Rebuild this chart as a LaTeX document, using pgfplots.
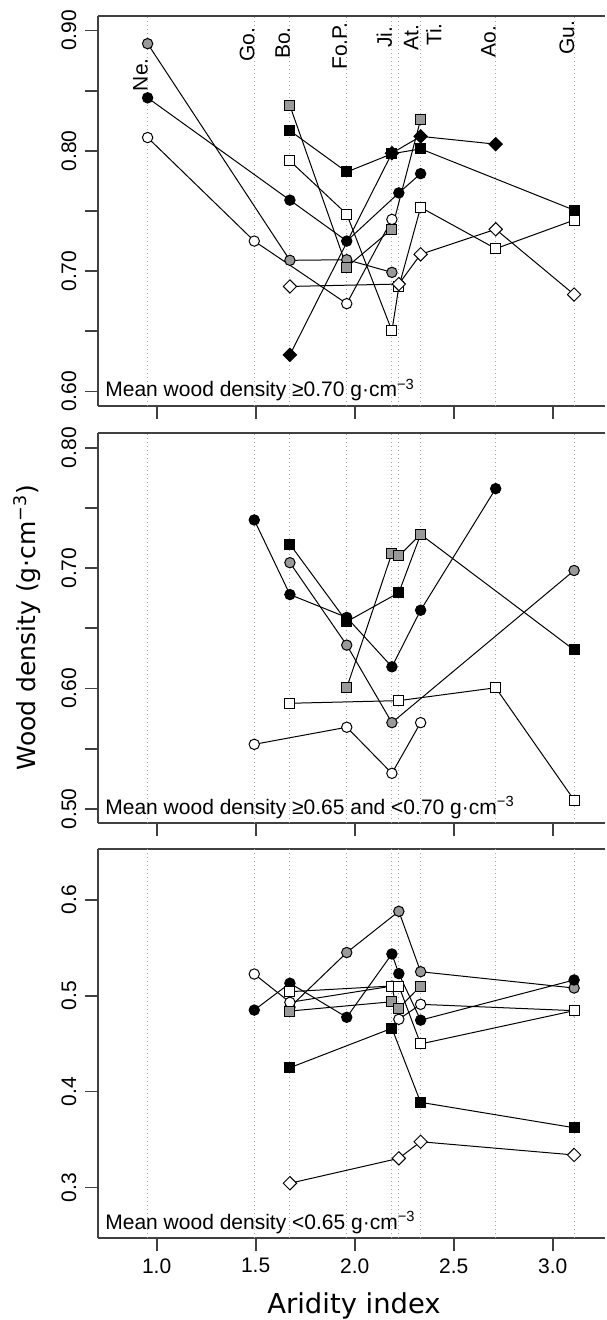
\documentclass[border=0pt]{standalone}
\usepackage{fontspec}
\setmainfont{Liberation Sans}
\newfontfamily\dejavu{DejaVu Sans}
\usepackage{pgfplots}
\pgfplotsset{compat=1.18}

\tikzset{
  plabel/.style={anchor=base west, font=\fontsize{10.5}{12}\selectfont, inner sep=0pt, xshift=3.5pt, yshift=4.5pt},
  slabel/.style={rotate=90, anchor=base, font=\fontsize{10.5}{12}\selectfont, inner sep=0pt, xshift=-0.6pt},
}
\pgfplotsset{
  GC/.style={black, line width=0.5pt, mark=*, mark size=2.6pt, mark options={draw=black, fill=black!40, line width=0.5pt, solid}},
  BC/.style={black, line width=0.5pt, mark=*, mark size=2.6pt, mark options={draw=black, fill=black, line width=0.5pt, solid}},
  WC/.style={black, line width=0.5pt, mark=*, mark size=2.6pt, mark options={draw=black, fill=white, line width=0.5pt, solid}},
  GS/.style={black, line width=0.5pt, mark=square*, mark size=2.5pt, mark options={draw=black, fill=black!40, line width=0.5pt, solid}},
  BS/.style={black, line width=0.5pt, mark=square*, mark size=2.5pt, mark options={draw=black, fill=black, line width=0.5pt, solid}},
  WS/.style={black, line width=0.5pt, mark=square*, mark size=2.5pt, mark options={draw=black, fill=white, line width=0.5pt, solid}},
  BD/.style={black, line width=0.5pt, mark=square*, mark size=2.35pt, mark options={draw=black, fill=black, line width=0.5pt, solid, rotate=45}},
  WD/.style={black, line width=0.5pt, mark=square*, mark size=2.35pt, mark options={draw=black, fill=white, line width=0.5pt, solid, rotate=45}},
  panel/.style={
    scale only axis, width=253.5pt, height=195pt,
    xmin=0.704, xmax=3.264,
    axis x line*=box, axis y line*=left,
    xtick={1,1.5,2,2.5,3},
    xtick pos=left, ytick pos=left,
    tick align=outside,
    major tick length=6.5pt,
    axis line style={black!75, line width=0.9pt},
    every tick/.style={black!75, line width=0.9pt},
    tick label style={font=\fontsize{10.5}{12}\selectfont},
    yticklabel style={rotate=90, anchor=base},
    yticklabel shift=4.5pt,
    extra x ticks={0.9545,1.493,1.673,1.960,2.188,2.223,2.333,2.712,3.108},
    extra x tick style={grid=major, major tick length=0pt, xticklabel={}},
    major grid style={black!35, line width=0.5pt, dash pattern=on 0.5pt off 1.5pt},
    clip=false,
  },
}

\begin{document}
\begin{tikzpicture}
\useasboundingbox (0,0) rectangle (303pt,660pt);

% ---------------- Panel 1 ----------------
\begin{axis}[panel, at={(49pt,457pt)}, anchor=south west,
  ymin=0.588, ymax=0.912,
  ytick={0.60,0.65,0.70,0.75,0.80,0.85,0.90},
  yticklabels={0.60,,0.70,,0.80,,0.90},
  xticklabels={,,,,}]
\addplot[GC] coordinates {(0.9545,0.889) (1.673,0.709) (1.960,0.7095) (2.188,0.699)};
\addplot[BC] coordinates {(0.9545,0.844) (1.673,0.759) (1.960,0.725) (2.223,0.765) (2.333,0.781)};
\addplot[WC] coordinates {(0.9545,0.811) (1.493,0.725) (1.960,0.673) (2.188,0.743)};
\addplot[BS] coordinates {(1.673,0.8167) (1.960,0.7824) (2.188,0.7975) (2.333,0.8016) (3.108,0.7507)};
\addplot[GS] coordinates {(1.673,0.8375) (1.960,0.7034) (2.188,0.735) (2.333,0.826)};
\addplot[WS] coordinates {(1.673,0.7916) (1.960,0.7474) (2.188,0.6505) (2.223,0.687) (2.333,0.753) (2.712,0.7187) (3.108,0.7424)};
\addplot[BD] coordinates {(1.673,0.6305) (2.188,0.798) (2.333,0.812) (2.712,0.8055)};
\addplot[WD] coordinates {(1.673,0.6873) (2.223,0.6893) (2.333,0.714) (2.712,0.7348) (3.108,0.6806)};
\node[slabel] at (axis cs:0.9545,0.8642) {Ne.};
\node[slabel] at (axis cs:1.493,0.8893) {Go.};
\node[slabel] at (axis cs:1.673,0.8905) {Bo.};
\node[slabel] at (axis cs:1.960,0.888) {Fo.P.};
\node[slabel] at (axis cs:2.188,0.8954) {Ji.};
\node[slabel] at (axis cs:2.322,0.8947) {At.};
\node[slabel] at (axis cs:2.438,0.8976) {Ti.};
\node[slabel] at (axis cs:2.712,0.8918) {Ao.};
\node[slabel] at (axis cs:3.108,0.8947) {Gu.};
\node[plabel] at (rel axis cs:0,0) {Mean wood density ≥0.70 g·cm\textsuperscript{−3}};
\end{axis}

% ---------------- Panel 2 ----------------
\begin{axis}[panel, at={(49pt,248.35pt)}, anchor=south west,
  ymin=0.488, ymax=0.812,
  ytick={0.50,0.55,0.60,0.65,0.70,0.75,0.80},
  yticklabels={0.50,,0.60,,0.70,,0.80},
  xticklabels={,,,,}]
\addplot[GC] coordinates {(1.673,0.7045) (1.960,0.636) (2.188,0.5716) (3.108,0.698)};
\addplot[BC] coordinates {(1.493,0.740) (1.673,0.678) (1.960,0.659) (2.188,0.618) (2.333,0.665) (2.712,0.766)};
\addplot[WC] coordinates {(1.493,0.5536) (1.960,0.5678) (2.188,0.5295) (2.333,0.5716)};
\addplot[BS] coordinates {(1.673,0.7198) (1.960,0.6555) (2.223,0.6796) (2.333,0.728) (3.108,0.632)};
\addplot[GS] coordinates {(1.960,0.6006) (2.188,0.7123) (2.223,0.7101) (2.333,0.7281)};
\addplot[WS] coordinates {(1.673,0.5877) (2.223,0.5899) (2.712,0.6006) (3.108,0.5073)};
\node[plabel] at (rel axis cs:0,0) {Mean wood density ≥0.65 and <0.70 g·cm\textsuperscript{−3}};
\end{axis}

% ---------------- Panel 3 ----------------
\begin{axis}[panel, at={(49pt,40.85pt)}, anchor=south west, height=194.65pt,
  ymin=0.247, ymax=0.653,
  ytick={0.3,0.4,0.5,0.6},
  yticklabels={0.3,0.4,0.5,0.6},
  xticklabels={1.0,1.5,2.0,2.5,3.0}]
\addplot[GC] coordinates {(1.673,0.488) (1.960,0.545) (2.223,0.588) (2.333,0.525) (3.108,0.508)};
\addplot[BC] coordinates {(1.493,0.485) (1.673,0.513) (1.960,0.4775) (2.188,0.5435) (2.223,0.523) (2.333,0.4745) (3.108,0.5164)};
\addplot[WC] coordinates {(1.493,0.5226) (1.673,0.4931) (2.188,0.510) (2.223,0.4754) (2.333,0.491) (3.108,0.4844)};
\addplot[BS] coordinates {(1.673,0.4249) (2.188,0.466) (2.333,0.3888) (3.108,0.3623)};
\addplot[GS] coordinates {(1.673,0.484) (2.188,0.4937) (2.223,0.4869) (2.333,0.5101)};
\addplot[WS] coordinates {(1.673,0.5042) (2.188,0.5101) (2.223,0.5101) (2.333,0.4497) (3.108,0.4844)};
\addplot[WD] coordinates {(1.673,0.3044) (2.223,0.3304) (2.333,0.3477) (3.108,0.3339)};
\node[plabel] at (rel axis cs:0,0) {Mean wood density <0.65 g·cm\textsuperscript{−3}};
\end{axis}

\node[font=\dejavu\fontsize{13.7}{16}\selectfont, anchor=base, inner sep=0pt] at (177pt,3.35pt) {Aridity index};
\node[font=\dejavu\fontsize{12.5}{15}\selectfont, rotate=90, anchor=base, inner sep=0pt] at (17.5pt,346.25pt) {Wood density (g·cm\textsuperscript{−3})};
\end{tikzpicture}
\end{document}
